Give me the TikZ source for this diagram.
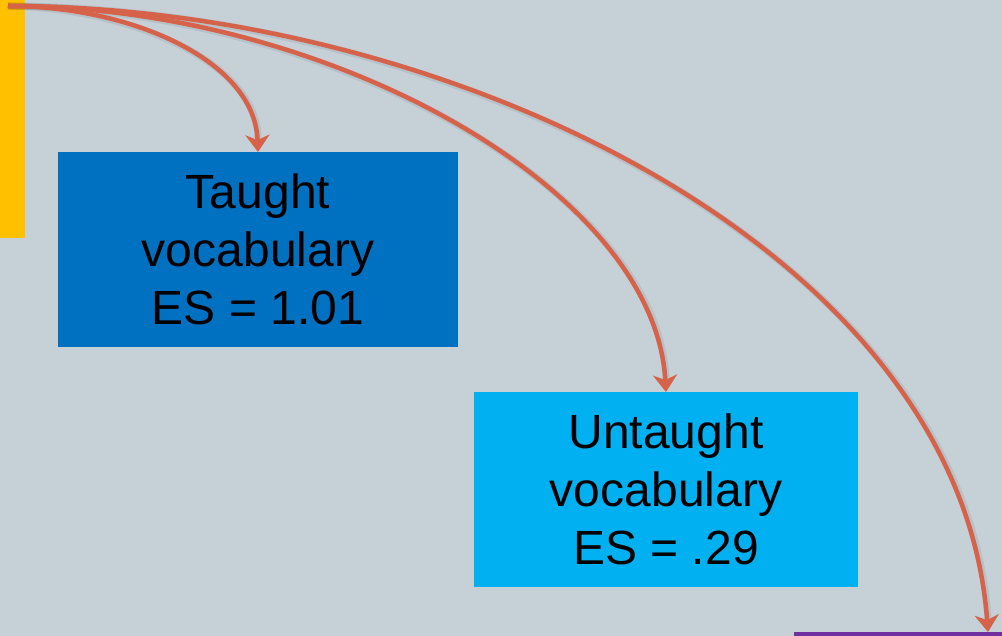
\documentclass[tikz,border=0pt]{standalone}
\usepackage{fontspec}
\setmainfont{Liberation Sans}
\usetikzlibrary{arrows.meta}
\definecolor{bg}{RGB}{197,208,215}
\definecolor{ybar}{RGB}{255,192,0}
\definecolor{dblue}{RGB}{0,112,192}
\definecolor{lblue}{RGB}{0,176,240}
\definecolor{purp}{RGB}{112,48,160}
\definecolor{arr}{RGB}{214,98,74}
\begin{document}
\begin{tikzpicture}[x=1pt,y=-1pt,
  box/.style={rectangle,inner sep=0pt,outer sep=0pt,minimum height=195pt,align=center,
    font=\fontsize{48}{58}\selectfont,text=black},
  bar/.style={rectangle,inner sep=0pt,outer sep=0pt},
  conn/.style={draw=arr,line width=4.5pt,-{Stealth[length=17pt,width=24pt,inset=5pt]}},
  shad/.style={draw=black,opacity=0.07,line width=7pt}
  ]
\fill[bg] (0,0) rectangle (1002,636);
\useasboundingbox (0,0) rectangle (1002,636);
\node[bar,fill=ybar,minimum width=25pt,minimum height=238pt] (ybar) at (12.5,119) {};
\node[bar,fill=purp,minimum width=208pt,minimum height=6pt] (purple) at (898,635) {};
\node[box,fill=dblue,minimum width=400pt] (taught) at (258,249.5) {Taught\\vocabulary\\ES = 1.01};
\node[box,fill=lblue,minimum width=384pt] (untaught) at (666,489.5) {Untaught\\vocabulary\\ES = .29};
\coordinate (start) at (8,6);
\coordinate (e3) at ([xshift=-14pt]purple.north east);
% soft shadows
\begin{scope}[shift={(1.5,2.5)}]
\draw[shad] (start) .. controls (130,6) and (255,60) .. ([yshift=14pt]taught.north);
\draw[shad] (start) .. controls (330,6) and (655,190) .. ([yshift=14pt]untaught.north);
\draw[shad] (start) .. controls (450,6) and (960,250) .. ([yshift=14pt]e3);
\end{scope}
\draw[conn] (start) .. controls (130,6) and (255,60) .. (taught.north);
\draw[conn] (start) .. controls (330,6) and (655,190) .. (untaught.north);
\draw[conn] (start) .. controls (450,6) and (960,250) .. (e3);
\end{tikzpicture}
\end{document}
